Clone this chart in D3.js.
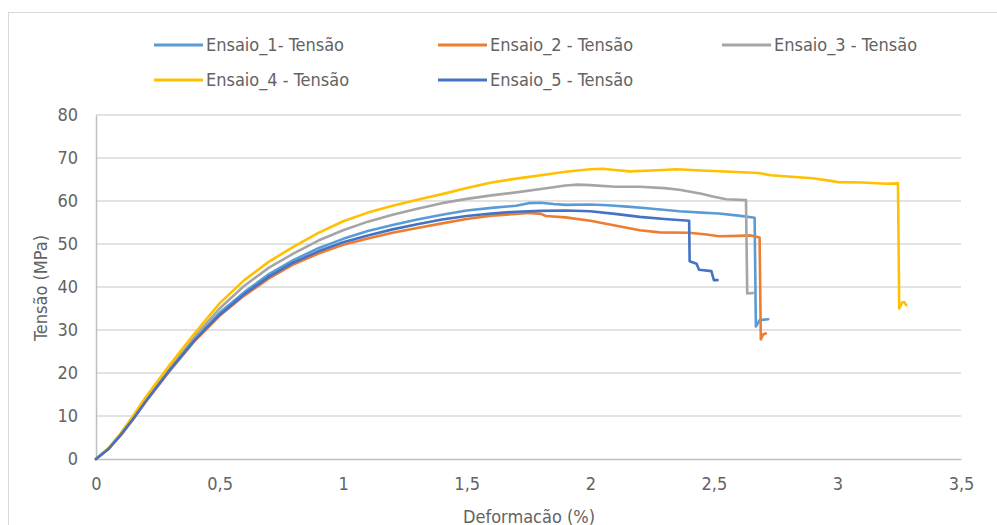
<!DOCTYPE html>
<html><head><meta charset="utf-8">
<script src="https://cdn.jsdelivr.net/npm/d3@7"></script>
<style>
html,body{margin:0;padding:0;background:#fff;}
text{font-family:"Liberation Sans Narrow","DejaVu Sans Condensed",sans-serif;fill:#636363;}
</style></head>
<body><svg id="c" width="997" height="525"></svg>
<script>
const seriesNames = ["Ensaio_1- Tensão","Ensaio_2 - Tensão","Ensaio_3 - Tensão","Ensaio_4 - Tensão","Ensaio_5 - Tensão"];
const seriesColors = ["#5B9BD5","#ED7D31","#A5A5A5","#FFC000","#4472C4"];
const xTicks = [0,0.5,1,1.5,2,2.5,3,3.5];
const yTicks = [0,10,20,30,40,50,60,70,80];
const xTitle = "Deformacão (%)";
const yTitle = "Tensão (MPa)";

const ensaio1 = [[0,0],[0.05,2.4],[0.1,5.7],[0.15,9.5],[0.2,13.5],[0.3,21],[0.4,28],[0.5,34],[0.6,38.8],[0.7,43],[0.8,46.3],[0.9,49],[1.0,51.2],[1.1,53],[1.2,54.4],[1.3,55.7],[1.4,56.8],[1.5,57.8],[1.6,58.4],[1.7,58.9],[1.75,59.5],[1.8,59.6],[1.85,59.3],[1.9,59.1],[2.0,59.2],[2.07,59],[2.15,58.7],[2.23,58.3],[2.36,57.6],[2.45,57.3],[2.52,57.1],[2.6,56.6],[2.665,56.1],[2.67,30.8],[2.685,32.3],[2.72,32.5]];
const ensaio2 = [[0,0],[0.05,2.3],[0.1,5.5],[0.15,9.2],[0.2,13.2],[0.3,20.6],[0.4,27.5],[0.5,33.3],[0.6,38],[0.7,42],[0.8,45.3],[0.9,47.8],[1.0,49.8],[1.1,51.3],[1.2,52.6],[1.3,53.7],[1.4,54.8],[1.5,55.8],[1.6,56.6],[1.7,57],[1.75,57.2],[1.8,57],[1.82,56.5],[1.9,56.2],[2.0,55.4],[2.1,54.3],[2.2,53.2],[2.28,52.7],[2.4,52.6],[2.47,52.2],[2.52,51.8],[2.6,51.9],[2.65,52],[2.685,51.5],[2.69,27.8],[2.7,29],[2.71,29.2]];
const ensaio3 = [[0,0],[0.05,2.4],[0.1,5.8],[0.15,9.7],[0.2,13.8],[0.3,21.3],[0.4,28.5],[0.5,35],[0.6,40.3],[0.7,44.5],[0.8,47.8],[0.9,50.8],[1.0,53.2],[1.1,55.2],[1.2,56.8],[1.3,58.2],[1.4,59.5],[1.5,60.5],[1.6,61.3],[1.7,62],[1.8,62.8],[1.9,63.6],[1.95,63.8],[2.0,63.7],[2.1,63.3],[2.2,63.3],[2.3,63],[2.36,62.6],[2.45,61.7],[2.5,61],[2.55,60.4],[2.63,60.2],[2.635,38.5],[2.66,38.6]];
const ensaio4 = [[0,0],[0.05,2.5],[0.1,6],[0.15,10],[0.2,14.3],[0.3,22],[0.4,29.3],[0.5,36.2],[0.6,41.6],[0.7,45.9],[0.8,49.4],[0.9,52.6],[1.0,55.3],[1.1,57.3],[1.2,58.9],[1.3,60.3],[1.4,61.6],[1.5,63],[1.6,64.3],[1.7,65.2],[1.8,66],[1.9,66.8],[2.0,67.4],[2.05,67.5],[2.1,67.2],[2.16,66.9],[2.25,67.1],[2.35,67.4],[2.45,67.1],[2.57,66.8],[2.68,66.5],[2.73,66],[2.8,65.7],[2.9,65.3],[2.96,64.8],[3.0,64.4],[3.1,64.3],[3.2,64],[3.245,64.1],[3.25,35],[3.262,36.4],[3.27,36.5],[3.278,35.8]];
const ensaio5 = [[0,0],[0.05,2.3],[0.1,5.6],[0.15,9.3],[0.2,13.3],[0.3,20.8],[0.4,27.7],[0.5,33.5],[0.6,38.3],[0.7,42.4],[0.8,45.7],[0.9,48.3],[1.0,50.4],[1.1,52],[1.2,53.4],[1.3,54.6],[1.4,55.7],[1.5,56.5],[1.6,57.1],[1.7,57.5],[1.8,57.7],[1.9,57.8],[2.0,57.6],[2.1,57],[2.2,56.3],[2.3,55.8],[2.4,55.4],[2.402,46],[2.43,45.4],[2.44,44],[2.49,43.7],[2.5,41.6],[2.515,41.6]];
const allSeries = [ensaio1,ensaio2,ensaio3,ensaio4,ensaio5];

const svg = d3.select("#c");
svg.append("rect").attr("x",8.5).attr("y",12.5).attr("width",995).attr("height",530)
  .attr("fill","none").attr("stroke","#d9d9d9").attr("stroke-width",1);

const x = d3.scaleLinear().domain([0,3.5]).range([96,961]);
const y = d3.scaleLinear().domain([0,80]).range([459,115]);

// gridlines
svg.append("g").selectAll("line").data(yTicks.filter(d=>d>0)).join("line")
  .attr("x1",x(0)).attr("x2",x(3.5)).attr("y1",d=>y(d)).attr("y2",d=>y(d))
  .attr("stroke","#d9d9d9").attr("stroke-width",1.5);

// axes
const xAxis = svg.append("g").attr("transform",`translate(0,${y(0)})`)
  .call(d3.axisBottom(x).tickValues(xTicks).tickSize(0).tickPadding(18)
    .tickFormat(d=>String(d).replace(".",",")));
xAxis.select(".domain").attr("stroke","#bfbfbf").attr("stroke-width",1.5);
xAxis.selectAll("text").attr("font-size",18).attr("fill","#636363");

const yAxis = svg.append("g").attr("transform",`translate(${x(0)},0)`)
  .call(d3.axisLeft(y).tickValues(yTicks).tickSize(0).tickPadding(18));
yAxis.select(".domain").attr("stroke","#bfbfbf").attr("stroke-width",1.5);
yAxis.selectAll("text").attr("font-size",18).attr("fill","#636363");

// lines
const line = d3.line().x(d=>x(d[0])).y(d=>y(d[1])).curve(d3.curveLinear);
allSeries.forEach((s,i)=>{
  svg.append("path").datum(s).attr("d",line).attr("fill","none")
    .attr("stroke",seriesColors[i]).attr("stroke-width",2.6)
    .attr("stroke-linejoin","round").attr("stroke-linecap","round");
});

// titles
svg.append("text").attr("x",529).attr("y",523).attr("text-anchor","middle")
  .attr("font-size",18).text(xTitle);
svg.append("text").attr("transform","translate(47,288) rotate(-90)")
  .attr("text-anchor","middle").attr("font-size",18).text(yTitle);

// legend
const legPos = [[154,45],[438,45],[722,45],[154,80],[438,80]];
seriesNames.forEach((n,i)=>{
  const [lx,ly] = legPos[i];
  svg.append("line").attr("x1",lx).attr("x2",lx+49).attr("y1",ly).attr("y2",ly)
    .attr("stroke",seriesColors[i]).attr("stroke-width",3);
  svg.append("text").attr("x",lx+52).attr("y",ly).attr("dy","0.35em")
    .attr("font-size",18).text(n);
});
</script></body></html>
